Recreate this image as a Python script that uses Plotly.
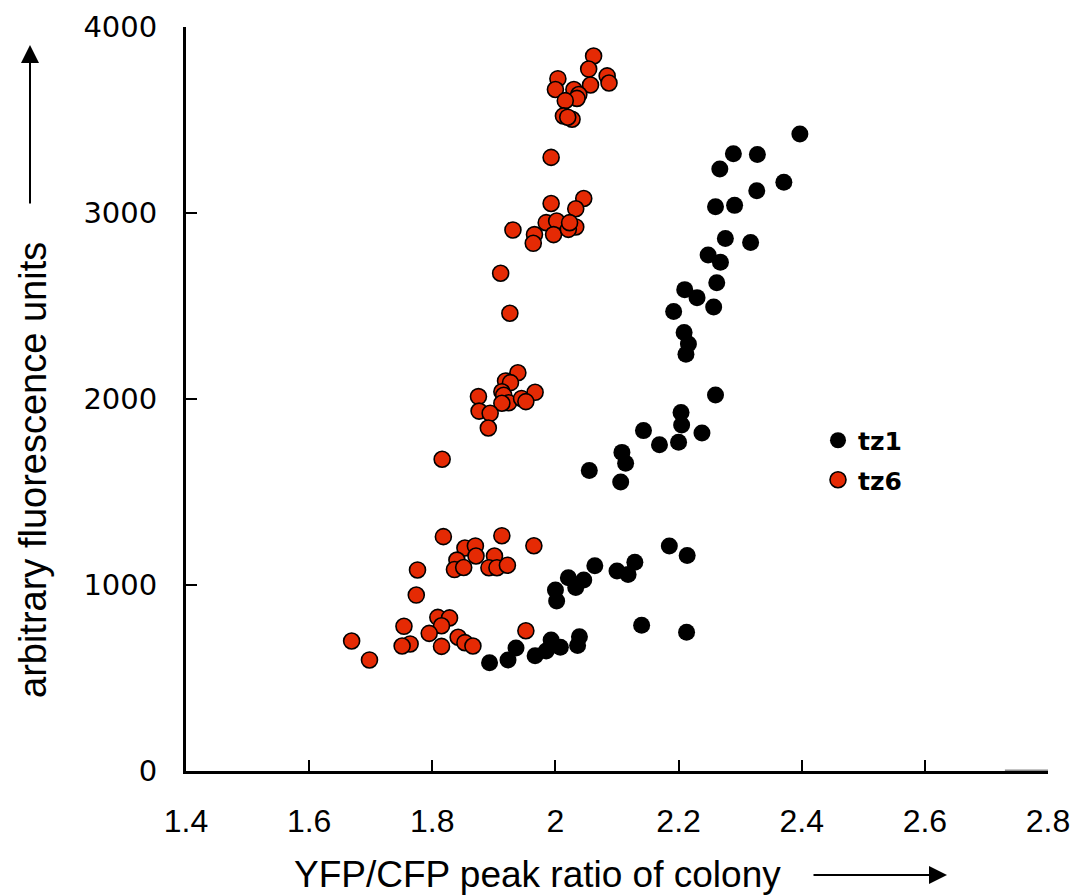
import plotly.graph_objects as go

# tz1 (black)
tz1_x = [2.397, 2.289, 2.328, 2.267, 2.371, 2.327, 2.260, 2.291, 2.276, 2.317,
         2.248, 2.268, 2.262, 2.210, 2.230, 2.257, 2.192, 2.209, 2.216, 2.212,
         2.260, 2.204, 2.205, 2.143, 2.238, 2.169, 2.200, 2.108, 2.114, 2.055,
         2.106, 2.185, 2.214, 2.064, 2.129, 2.100, 2.118, 2.021, 2.046, 2.033,
         2.000, 2.002, 2.140, 2.213, 2.039, 2.036, 1.993, 2.008, 1.985, 1.967,
         1.936, 1.923, 1.893]
tz1_y = [3425, 3319, 3315, 3237, 3165, 3120, 3034, 3041, 2863, 2842,
         2774, 2735, 2625, 2588, 2545, 2495, 2470, 2357, 2296, 2240,
         2022, 1928, 1860, 1830, 1817, 1754, 1767, 1713, 1654, 1615,
         1554, 1210, 1159, 1104, 1122, 1075, 1057, 1039, 1027, 986,
         973, 914, 783, 746, 722, 675, 704, 665, 645, 620,
         661, 597, 582]

# tz6 (red)
tz6_x = [2.062, 2.054, 2.084, 2.087, 2.004, 2.000, 2.057, 2.030, 2.038, 2.035,
         2.016, 2.013, 2.027, 2.020, 1.993, 2.046, 2.033, 1.993, 1.985, 2.002,
         1.997, 1.966, 1.964, 1.931, 2.033, 2.021, 2.023, 1.911, 1.926, 1.939,
         1.919, 1.927, 1.875, 1.913, 1.916, 1.924, 1.913, 1.945, 1.967, 1.952,
         1.876, 1.894, 1.891, 1.816, 1.818, 1.913, 1.965, 1.853, 1.870, 1.871,
         1.840, 1.836, 1.851, 1.901, 1.892, 1.905, 1.922, 1.776, 1.774, 1.809,
         1.828, 1.815, 1.754, 1.795, 1.764, 1.751, 1.815, 1.842, 1.853, 1.866,
         1.669, 1.698, 1.952]
tz6_y = [3844, 3774, 3737, 3699, 3722, 3664, 3688, 3664, 3637, 3616,
         3604, 3522, 3504, 3515, 3299, 3078, 3023, 3051, 2948, 2957,
         2884, 2884, 2837, 2909, 2925, 2912, 2948, 2676, 2461, 2141,
         2097, 2088, 2013, 2039, 2020, 1980, 1977, 2003, 2036, 1986,
         1935, 1923, 1844, 1676, 1260, 1265, 1211, 1199, 1210, 1156,
         1134, 1083, 1094, 1156, 1093, 1093, 1106, 1081, 946, 826,
         823, 781, 778, 740, 683, 672, 670, 719, 690, 672,
         699, 597, 754]

x_ticks = [1.4, 1.6, 1.8, 2.0, 2.2, 2.4, 2.6, 2.8]
x_tick_text = ["1.4", "1.6", "1.8", "2", "2.2", "2.4", "2.6", "2.8"]
y_ticks = [0, 1000, 2000, 3000, 4000]
y_tick_text = ["0", "1000", "2000", "3000", "4000"]

FONT = "Liberation Sans, Arial, sans-serif"
WIDE = "DejaVu Sans, Verdana, sans-serif"

L, R, T, B = 186, 1048, 27, 771
PW, PH = R - L, B - T

fig = go.Figure()
fig.add_trace(go.Scatter(
    x=tz1_x, y=tz1_y, mode="markers", name="tz1", legendgroup="a",
    marker=dict(color="black", size=17, line=dict(width=0)),
))
fig.add_trace(go.Scatter(
    x=tz6_x, y=tz6_y, mode="markers", name="tz6", legendgroup="b",
    marker=dict(color="#e52a04", size=16, line=dict(color="black", width=1.6)),
))

fig.update_layout(
    width=1076, height=896,
    margin=dict(l=L, r=1076 - R, t=T, b=896 - B, autoexpand=False),
    paper_bgcolor="white", plot_bgcolor="white",
    font=dict(family=FONT, color="black"),
    showlegend=True,
    legend=dict(
        x=(818 - L) / PW, y=(B - 460) / PH, xanchor="left", yanchor="middle",
        font=dict(family=WIDE, size=25, color="black", weight="bold"),
        bgcolor="rgba(0,0,0,0)", tracegroupgap=4, itemsizing="trace",
    ),
    xaxis=dict(
        range=[1.4, 2.8], tickvals=x_ticks, ticktext=x_tick_text, automargin=False,
        showgrid=False, zeroline=False, showline=True, linecolor="black", linewidth=3,
        ticks="inside", ticklen=11, tickwidth=2, tickcolor="black",
        tickfont=dict(family=FONT, size=32), ticklabelstandoff=20,
    ),
    yaxis=dict(
        range=[0, 4000], tickvals=y_ticks, ticktext=y_tick_text, automargin=False,
        showgrid=False, zeroline=False, showline=True, linecolor="black", linewidth=3,
        ticks="inside", ticklen=11, tickwidth=2, tickcolor="black",
        tickfont=dict(family=WIDE, size=29), ticklabelstandoff=20,
    ),
    shapes=[
        dict(type="line", xref="x", yref="y", x0=2.73, x1=2.8, y0=0, y1=0,
             line=dict(color="#8c8c8c", width=3), layer="above"),
    ],
    annotations=[
        dict(text="YFP/CFP peak ratio of colony", xref="paper", yref="paper",
             x=(292 - L) / PW, y=-(875 - B) / PH, xanchor="left", yanchor="middle",
             showarrow=False, font=dict(family=FONT, size=37)),
        dict(text="arbitrary fluorescence units", xref="paper", yref="paper",
             x=-(L - 33) / PW, y=(B - 470) / PH, xanchor="center", yanchor="middle",
             textangle=-90, showarrow=False, font=dict(family=FONT, size=38)),
        # x title arrow
        dict(text="", xref="paper", yref="paper",
             x=(947 - L) / PW, y=-(875 - B) / PH,
             ax=-135, ay=0, axref="pixel", ayref="pixel",
             showarrow=True, arrowhead=2, arrowsize=1.8, arrowwidth=2, arrowcolor="black"),
        # y title arrow
        dict(text="", xref="paper", yref="paper",
             x=-(L - 30) / PW, y=(B - 45) / PH,
             ax=0, ay=160, axref="pixel", ayref="pixel",
             showarrow=True, arrowhead=2, arrowsize=1.8, arrowwidth=2, arrowcolor="black"),
    ],
)

fig.write_html(
    "out.html",
    config={"displayModeBar": False},
    post_script="document.body.style.margin='0px';document.body.style.overflow='hidden';",
)
